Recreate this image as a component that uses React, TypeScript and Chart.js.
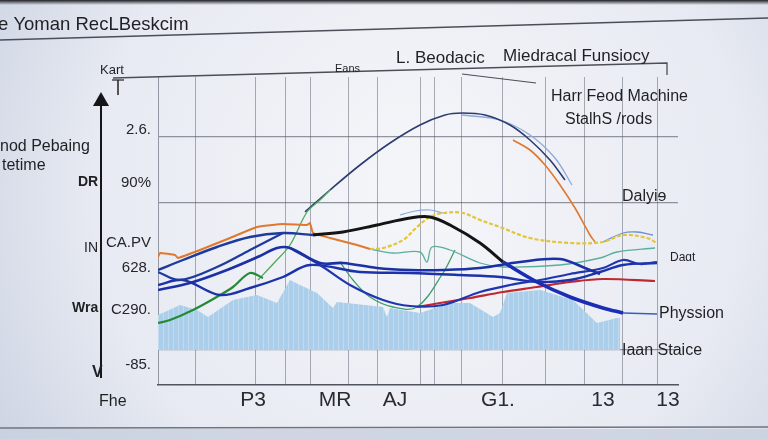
import React, { useEffect, useRef } from "react";
import { Chart, registerables } from "chart.js";

Chart.register(...registerables);

// ---------- data ----------
const X_TICKS = [19, 35.4, 47.4, 68, 89, 102];
const X_LABELS = ["P3", "MR", "AJ", "G1.", "13", "13"];
const X_GRID = [7.4, 19.4, 25.4, 30.4, 38, 43.8, 52.4, 55.2, 60.8, 68.8, 77.4, 85.2, 92.8, 99.8];

const Y_TICKS = [102, 80.8, 56.8, 46.8, 30, 8];
const Y_LABELS = ["2.6.", "90%", "CA.PV", "628.", "C290.", "-85."];
const Y_GRID = [99.2, 72.8, 14];

const areaPts = [[0,28],[4.4,32],[7.8,30],[10,27.2],[15,34],[19.8,36],[23.8,32.8],[26.4,42],[28.4,40],[31.8,36.8],[35,30.8],[35.8,33.2],[45,31.2],[45.8,27.2],[46.4,30.8],[52.4,28.8],[58.4,32.8],[62.4,32.8],[67,27.2],[68.4,28.8],[69.8,36.8],[76.4,38],[83,34],[87.8,24.8],[91.8,26.8],[92.4,26.8]];
const arcPts = [[29.4,69.2],[34.4,78],[40.4,88],[46.4,96.8],[52.4,104],[57.4,108],[60.8,108.8],[65.4,108],[70.4,104],[74.4,98],[78.4,90],[81.4,82]];
const arcLightPts = [[60.8,108],[68.4,106],[74.4,100],[79.4,90.8],[82.8,80]];
const orangeFallPts = [[71,98],[74.4,94],[77.4,88],[80.4,80],[83.4,70.8],[86.4,60],[87.4,57.2]];
const greenRiserPts = [[20,42],[23.4,49.2],[26.4,56],[29.8,69.2],[32.4,74],[34.4,78]];
const greenThickPts = [[0,24.8],[2.4,26],[7,30],[11.4,34.8],[15,39.2],[18.4,44.8],[21,42.8]];
const orangeNoisyPts = [[0,51.2],[0.4,52.8],[3.4,52],[4,50.8],[8.4,54],[14.4,58.8],[19.8,63.2],[25,64.4],[29.8,64],[30.4,64.8],[31,60.8],[34.4,58.8],[39.8,56],[42.4,54.4]];
const navyPts = [[0,46],[5,50],[11.8,55.2],[18.4,59.2],[25,60.8],[31,60]];
const blackPts = [[31,60],[37,61.2],[43.8,64],[50.4,66.8],[54.4,67.2],[58.4,64],[64.4,56.8],[69,49.2]];
const blueDownPts = [[69,49.2],[75.8,41.2],[82.4,35.2],[89,30.8],[93,28.8]];
const blueTailPts = [[93,28.8],[99.8,28.4]];
const yellowPts = [[42.4,54.4],[45,54.8],[49,58],[51.8,63.2],[54.4,67.2],[57,68.8],[61,68.8],[64.4,66],[68.4,63.2],[74.4,58.8],[82.4,56.8],[89,57.2],[93,60],[97.8,58.8],[99.8,56.8]];
const lightBluePts = [[89,57.2],[93,60.8],[95.8,61.2],[99,60]];
const humpPts = [[48.4,68],[51.4,69.6],[54.4,70],[57,68.8]];
const tealPts = [[42.4,54.4],[47,52.8],[52.4,53.2],[53.8,49.2],[54.8,55.2],[58.4,54],[64.4,48.8],[69,47.2],[80.4,48],[88.4,50.8],[91.8,53.2],[99.4,54.8]];
const tealFallPts = [[36.4,49.2],[39,42],[42.4,35.2],[47,31.2],[51.8,31.2],[57,44.8],[59.4,54]];
const blueAPts = [[0,38],[6.4,40.8],[13.8,46],[20.4,51.6],[23.8,54.8],[26.4,54.8],[32.4,48.8],[37,48.8],[43.8,46.8],[50.4,46],[57,46],[64.4,46.8],[72.4,49.2],[80.4,50.4],[85.4,46.8],[88.4,44.4]];
const blueBPts = [[0,45.2],[4.4,42],[11.8,47.2],[18.4,54],[25,60.8]];
const blueDatPts = [[0,40],[5,42],[12.4,36],[18.4,38.8],[25,43.2],[30.4,48],[40.4,45.2],[50.4,44.8],[60.4,44],[68.4,43.2],[75.8,41.2],[82.4,42],[88.4,45.2],[93,48],[99.8,48.8]];
const blueLowPts = [[26.4,54.8],[32.4,48],[38.4,40],[45,34],[50.4,31.6],[57,32],[64.4,37.2],[70.4,40],[76.4,42],[82.4,44.4],[89,46.8],[93,50],[96.4,48.4],[99.8,49.2]];
const redPts = [[51.8,31.2],[56.4,32.8],[62.4,34.8],[69,37.2],[75.8,39.2],[82.4,41.2],[89,42.4],[99.4,41.6]];

const FONT = "'Liberation Sans', Arial, sans-serif";

const toXY = (pts: number[][]) => pts.map(([x, y]) => ({ x, y }));
const near = (arr: number[], v: number) => arr.findIndex((a) => Math.abs(a - v) < 0.01);

const decor = {
  id: "decor",
  beforeDraw(chart: any) {
    const c = chart.ctx as CanvasRenderingContext2D;
    const W = chart.width, H = chart.height;
    c.save();
    const g = c.createRadialGradient(420, 190, 40, 420, 190, 560);
    g.addColorStop(0, "#f4f5f9");
    g.addColorStop(0.55, "#e7eaf2");
    g.addColorStop(1, "#c3cbdd");
    c.fillStyle = g;
    c.fillRect(0, 0, W, H);
    const tg = c.createLinearGradient(0, 0, 0, 5);
    tg.addColorStop(0, "#1e1f24");
    tg.addColorStop(1, "rgba(40,42,50,0)");
    c.fillStyle = tg;
    c.fillRect(0, 0, W, 5);
    c.fillStyle = "rgba(200,207,222,0.8)";
    c.fillRect(0, 429, W, H - 429);
    c.strokeStyle = "#70747e";
    c.lineWidth = 1.5;
    c.beginPath(); c.moveTo(0, 428); c.lineTo(W, 427); c.stroke();
    c.restore();
  },
  afterDraw(chart: any) {
    const c = chart.ctx as CanvasRenderingContext2D;
    c.save();
    const line = (pts: number[][], w = 1.3, col = "#555a64") => {
      c.strokeStyle = col; c.lineWidth = w; c.beginPath();
      pts.forEach(([x, y], i) => (i ? c.lineTo(x, y) : c.moveTo(x, y)));
      c.stroke();
    };
    const t = (s: string, x: number, y: number, size: number, weight = "normal", col = "#1f2024") => {
      c.font = `${weight} ${size}px ${FONT}`;
      c.fillStyle = col; c.textAlign = "left"; c.textBaseline = "middle";
      c.fillText(s, x, y);
    };
    line([[0, 40], [768, 18]], 1.5, "#4a4e58");
    line([[113, 78], [667, 63], [667, 75]], 1.3, "#4a4e58");
    line([[462, 74], [536, 83]], 1.2, "#4a4e58");
    line([[101, 378], [101, 97]], 2, "#15161a");
    c.fillStyle = "#15161a";
    c.beginPath(); c.moveTo(101, 92); c.lineTo(93, 106); c.lineTo(109, 106); c.closePath(); c.fill();
    line([[118, 80], [118, 95]], 1.5, "#222");
    line([[112, 80], [124, 80]], 1.2, "#222");
    t("e Yoman RecLBeskcim", -2, 25, 18.5);
    t("Kart", 100, 70, 13);
    t("nod Pebaing", 0, 147, 16);
    t("tetime", 2, 166, 16);
    t("DR", 78, 182, 14, "bold");
    t("IN", 84, 248, 14);
    t("Wra", 72, 308, 14, "bold");
    t("V", 92, 373, 16, "bold");
    t("Fhe", 99, 402, 16);
    t("Eans", 335, 69, 11);
    t("L. Beodacic", 396, 58, 17);
    t("Miedracal Funsiocy", 503, 56, 17);
    t("Harr Feod Machine", 551, 97, 16);
    t("StalhS /rods", 565, 120, 16);
    t("Dalyiɘ", 622, 197, 16);
    t("Daɑt", 670, 258, 12);
    t("Physsion", 659, 314, 16);
    t("Iaan Staice", 622, 351, 16);
    c.restore();
  },
};

export default function App() {
  const ref = useRef<HTMLCanvasElement | null>(null);
  useEffect(() => {
    if (!ref.current) return;
    const pc = document.createElement("canvas");
    pc.width = 5; pc.height = 2;
    const pctx = pc.getContext("2d")!;
    pctx.fillStyle = "#abcfea"; pctx.fillRect(0, 0, 5, 2);
    pctx.fillStyle = "#c0dbef"; pctx.fillRect(3, 0, 1, 2);
    const pattern = pctx.createPattern(pc, "repeat")!;

    const ln = (data: number[][], color: string, width: number, order: number, extra: any = {}) => ({
      type: "line",
      data: toXY(data),
      borderColor: color,
      borderWidth: width,
      pointRadius: 0,
      tension: 0.35,
      fill: false,
      order,
      ...extra,
    });

    const chart = new Chart(ref.current, {
      type: "line",
      data: {
        datasets: [
          ln(areaPts, "rgba(0,0,0,0)", 0, 20, { fill: { value: 14 }, backgroundColor: pattern, tension: 0 }),
          ln(humpPts, "#8ea8dc", 1.2, 12),
          ln(arcLightPts, "#8ea8dc", 1.3, 11),
          ln(arcPts, "#2e3b6e", 1.6, 10),
          ln(orangeFallPts, "#e0782e", 1.6, 9),
          ln(greenRiserPts, "#4caa5a", 1.3, 9),
          ln(tealPts, "#5aae9c", 1.3, 9),
          ln(tealFallPts, "#3f9e6a", 1.3, 9),
          ln(lightBluePts, "#6f8fd6", 1.3, 8),
          ln(greenThickPts, "#248a36", 2.2, 7),
          ln(yellowPts, "#e3c53a", 2.2, 6, { borderDash: [4, 2] }),
          ln(orangeNoisyPts, "#e0782e", 2, 5, { tension: 0.1 }),
          ln(redPts, "#c02830", 2.2, 5),
          ln(blueLowPts, "#1f36b0", 2.2, 4),
          ln(blueDatPts, "#1c32aa", 2.4, 4),
          ln(blueAPts, "#1a30a4", 2.6, 3),
          ln(blueBPts, "#1e3a9c", 2.2, 3),
          ln(navyPts, "#1e3a9c", 2.4, 2),
          ln(blueTailPts, "#3a5cc8", 1.6, 2),
          ln(blueDownPts, "#1a2db5", 3.6, 1),
          ln(blackPts, "#141414", 3, 0),
        ] as any,
      },
      options: {
        animation: false,
        responsive: false,
        devicePixelRatio: 1,
        layout: { padding: { left: 0, right: 90, top: 77, bottom: 0 } },
        plugins: { legend: { display: false }, tooltip: { enabled: false }, title: { display: false } },
        scales: {
          x: {
            type: "linear",
            min: 0,
            max: 104,
            afterFit: (s: any) => { s.height = 54; },
            afterBuildTicks: (s: any) => { s.ticks = [...X_TICKS, ...X_GRID].map((v) => ({ value: v })); },
            ticks: {
              autoSkip: false,
              maxRotation: 0,
              padding: 3,
              color: "#2a2b30",
              font: { family: FONT, size: 21 },
              callback: (v: any) => { const i = near(X_TICKS, Number(v)); return i >= 0 ? X_LABELS[i] : ""; },
            },
            grid: {
              drawTicks: false,
              lineWidth: 1,
              color: (ctx: any) => (ctx.tick && near(X_GRID, ctx.tick.value) >= 0 ? "rgba(90,95,110,0.5)" : "rgba(0,0,0,0)"),
            },
            border: { display: true, color: "#50545e", width: 1.5 },
          },
          y: {
            type: "linear",
            min: 0,
            max: 123.2,
            afterFit: (s: any) => { s.width = 158; },
            afterBuildTicks: (s: any) => { s.ticks = [...Y_TICKS, ...Y_GRID].map((v) => ({ value: v })); },
            ticks: {
              autoSkip: false,
              padding: 7,
              color: "#25262b",
              font: { family: FONT, size: 15 },
              callback: (v: any) => { const i = near(Y_TICKS, Number(v)); return i >= 0 ? Y_LABELS[i] : ""; },
            },
            grid: {
              drawTicks: false,
              lineWidth: 1.2,
              color: (ctx: any) => (ctx.tick && near(Y_GRID, ctx.tick.value) >= 0 ? "rgba(80,85,100,0.6)" : "rgba(0,0,0,0)"),
            },
            border: { display: true, color: "rgba(90,95,110,0.6)", width: 1 },
          },
        },
      } as any,
      plugins: [decor],
    });
    return () => chart.destroy();
  }, []);
  return (
    <div style={{ position: "absolute", left: 0, top: 0, width: 768, height: 439 }}>
      <canvas ref={ref} width={768} height={439} style={{ display: "block" }} />
    </div>
  );
}
